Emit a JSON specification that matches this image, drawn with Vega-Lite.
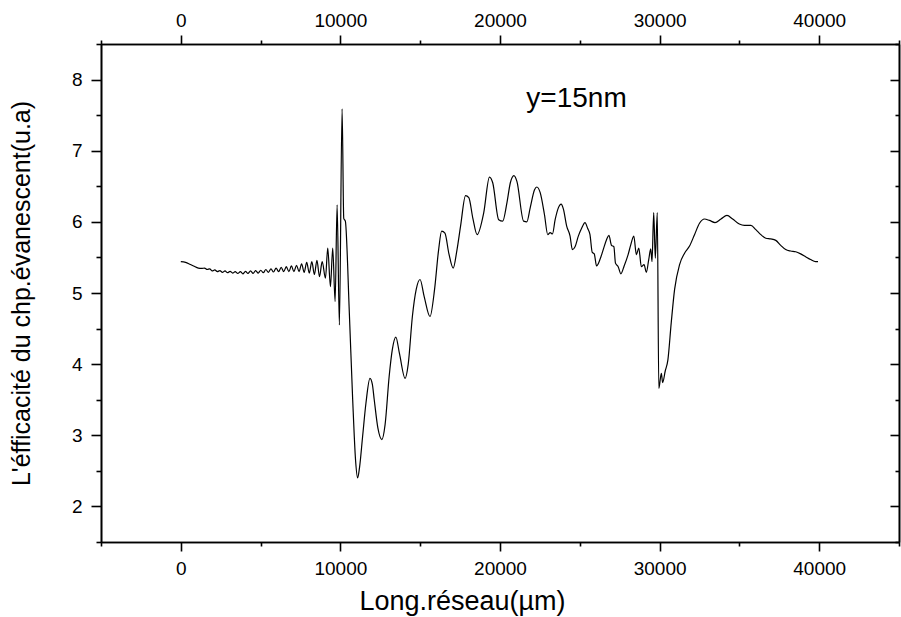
{
  "$schema": "https://vega.github.io/schema/vega-lite/v6.json",
  "width": 798,
  "height": 498,
  "autosize": {"type": "none"},
  "padding": {"left": 101, "top": 44, "right": 2, "bottom": 75},
  "background": "white",
  "config": {
    "view": {"stroke": null},
    "axis": {
      "grid": false,
      "domainColor": "black",
      "domainWidth": 1.6,
      "tickColor": "black",
      "tickWidth": 1.6,
      "labelColor": "black",
      "labelFont": "Liberation Sans",
      "labelFontSize": 19,
      "titleColor": "black",
      "titleFont": "Liberation Sans",
      "titleFontWeight": "normal"
    }
  },
  "datasets": {
    "curve": [
      {"x": 0, "y": 5.44}, {"x": 300, "y": 5.43}, {"x": 600, "y": 5.40}, {"x": 800, "y": 5.38}, {"x": 1100, "y": 5.35}, {"x": 1300, "y": 5.345},
      {"x": 1490, "y": 5.35}, {"x": 1650, "y": 5.33}, {"x": 1810, "y": 5.34}, {"x": 1970, "y": 5.31}, {"x": 2130, "y": 5.325}, {"x": 2290, "y": 5.30},
      {"x": 2450, "y": 5.315}, {"x": 2610, "y": 5.29}, {"x": 2770, "y": 5.31}, {"x": 2930, "y": 5.285}, {"x": 3090, "y": 5.305}, {"x": 3250, "y": 5.28},
      {"x": 3410, "y": 5.30}, {"x": 3570, "y": 5.275}, {"x": 3730, "y": 5.30}, {"x": 3890, "y": 5.27}, {"x": 4050, "y": 5.305}, {"x": 4210, "y": 5.275},
      {"x": 4370, "y": 5.31}, {"x": 4530, "y": 5.275}, {"x": 4690, "y": 5.315}, {"x": 4850, "y": 5.28}, {"x": 5010, "y": 5.32}, {"x": 5170, "y": 5.285},
      {"x": 5330, "y": 5.33}, {"x": 5490, "y": 5.29}, {"x": 5650, "y": 5.34}, {"x": 5810, "y": 5.295}, {"x": 5970, "y": 5.35}, {"x": 6130, "y": 5.30},
      {"x": 6290, "y": 5.36}, {"x": 6450, "y": 5.30}, {"x": 6610, "y": 5.37}, {"x": 6770, "y": 5.30}, {"x": 6930, "y": 5.38}, {"x": 7090, "y": 5.30},
      {"x": 7250, "y": 5.39}, {"x": 7410, "y": 5.30}, {"x": 7570, "y": 5.41}, {"x": 7730, "y": 5.29}, {"x": 7890, "y": 5.43}, {"x": 8050, "y": 5.28},
      {"x": 8210, "y": 5.44}, {"x": 8370, "y": 5.26}, {"x": 8530, "y": 5.46}, {"x": 8690, "y": 5.23}, {"x": 8858, "y": 5.44}, {"x": 9064, "y": 5.21},
      {"x": 9207, "y": 5.63}, {"x": 9376, "y": 5.09}, {"x": 9519, "y": 5.63}, {"x": 9669, "y": 4.88}, {"x": 9794, "y": 6.24}, {"x": 9937, "y": 4.55},
      {"x": 10106, "y": 7.59}, {"x": 10210, "y": 6.05}, {"x": 10310, "y": 6.01}, {"x": 10560, "y": 4.72}, {"x": 10770, "y": 3.50}, {"x": 10950, "y": 2.65},
      {"x": 11080, "y": 2.40}, {"x": 11200, "y": 2.55}, {"x": 11390, "y": 2.98}, {"x": 11600, "y": 3.45}, {"x": 11852, "y": 3.80}, {"x": 12000, "y": 3.72},
      {"x": 12120, "y": 3.50}, {"x": 12350, "y": 3.10}, {"x": 12600, "y": 2.94}, {"x": 12800, "y": 3.15}, {"x": 13056, "y": 3.83}, {"x": 13250, "y": 4.20},
      {"x": 13474, "y": 4.38}, {"x": 13700, "y": 4.15}, {"x": 14054, "y": 3.80}, {"x": 14250, "y": 4.00}, {"x": 14510, "y": 4.67}, {"x": 14750, "y": 5.05},
      {"x": 14990, "y": 5.19}, {"x": 15250, "y": 4.95}, {"x": 15614, "y": 4.67}, {"x": 15900, "y": 5.05}, {"x": 16150, "y": 5.60}, {"x": 16344, "y": 5.87},
      {"x": 16550, "y": 5.84}, {"x": 16800, "y": 5.55}, {"x": 17067, "y": 5.35}, {"x": 17300, "y": 5.60}, {"x": 17529, "y": 5.94}, {"x": 17841, "y": 6.37},
      {"x": 18046, "y": 6.34}, {"x": 18300, "y": 6.05}, {"x": 18564, "y": 5.82}, {"x": 18982, "y": 6.13}, {"x": 19338, "y": 6.63}, {"x": 19544, "y": 6.55},
      {"x": 19918, "y": 6.03}, {"x": 20168, "y": 6.01}, {"x": 20436, "y": 6.27}, {"x": 20648, "y": 6.55}, {"x": 20872, "y": 6.65}, {"x": 21059, "y": 6.57},
      {"x": 21477, "y": 6.01}, {"x": 21683, "y": 6.00}, {"x": 21895, "y": 6.20}, {"x": 22164, "y": 6.45}, {"x": 22307, "y": 6.49}, {"x": 22519, "y": 6.41},
      {"x": 22787, "y": 6.10}, {"x": 22993, "y": 5.82}, {"x": 23143, "y": 5.85}, {"x": 23286, "y": 5.83}, {"x": 23455, "y": 6.03}, {"x": 23661, "y": 6.20},
      {"x": 23829, "y": 6.25}, {"x": 23973, "y": 6.18}, {"x": 24178, "y": 5.94}, {"x": 24390, "y": 5.80}, {"x": 24534, "y": 5.61}, {"x": 24702, "y": 5.65},
      {"x": 24908, "y": 5.80}, {"x": 25114, "y": 5.91}, {"x": 25326, "y": 5.99}, {"x": 25488, "y": 5.91}, {"x": 25638, "y": 5.82}, {"x": 25781, "y": 5.57},
      {"x": 25906, "y": 5.55}, {"x": 26050, "y": 5.38}, {"x": 26262, "y": 5.47}, {"x": 26468, "y": 5.61}, {"x": 26674, "y": 5.75}, {"x": 26824, "y": 5.81},
      {"x": 26985, "y": 5.67}, {"x": 27135, "y": 5.65}, {"x": 27235, "y": 5.42}, {"x": 27404, "y": 5.37}, {"x": 27572, "y": 5.27}, {"x": 27778, "y": 5.38},
      {"x": 28027, "y": 5.54}, {"x": 28196, "y": 5.68}, {"x": 28383, "y": 5.80}, {"x": 28545, "y": 5.54}, {"x": 28695, "y": 5.63}, {"x": 28857, "y": 5.37},
      {"x": 29026, "y": 5.40}, {"x": 29169, "y": 5.29}, {"x": 29319, "y": 5.47}, {"x": 29444, "y": 5.62}, {"x": 29525, "y": 5.44}, {"x": 29631, "y": 6.13},
      {"x": 29731, "y": 5.49}, {"x": 29856, "y": 6.13}, {"x": 29950, "y": 3.66}, {"x": 30110, "y": 3.87}, {"x": 30190, "y": 3.74}, {"x": 30350, "y": 3.90},
      {"x": 30520, "y": 4.06}, {"x": 30728, "y": 4.58}, {"x": 30940, "y": 5.05}, {"x": 31252, "y": 5.40}, {"x": 31564, "y": 5.56}, {"x": 31876, "y": 5.66},
      {"x": 32188, "y": 5.82}, {"x": 32500, "y": 5.98}, {"x": 32812, "y": 6.04}, {"x": 33124, "y": 6.02}, {"x": 33473, "y": 5.99}, {"x": 33847, "y": 6.04},
      {"x": 34222, "y": 6.09}, {"x": 34577, "y": 6.04}, {"x": 34995, "y": 5.97}, {"x": 35307, "y": 5.95}, {"x": 35719, "y": 5.95}, {"x": 36031, "y": 5.89},
      {"x": 36343, "y": 5.82}, {"x": 36655, "y": 5.77}, {"x": 36967, "y": 5.76}, {"x": 37279, "y": 5.74}, {"x": 37590, "y": 5.67}, {"x": 37902, "y": 5.61},
      {"x": 38214, "y": 5.59}, {"x": 38526, "y": 5.58}, {"x": 38838, "y": 5.55}, {"x": 39150, "y": 5.51}, {"x": 39462, "y": 5.47}, {"x": 39774, "y": 5.44},
      {"x": 39924, "y": 5.44}
    ],
    "note": [{"label": "y=15nm"}]
  },
  "resolve": {"axis": {"x": "independent", "y": "independent"}},
  "layer": [
    {
      "data": {"name": "curve"},
      "mark": {"type": "line", "color": "black", "strokeWidth": 1.2, "interpolate": "monotone"},
      "encoding": {
        "x": {"field": "x", "type": "quantitative", "scale": {"domain": [-5000, 45000], "nice": false, "zero": false},
          "axis": {"orient": "bottom", "values": [0, 10000, 20000, 30000, 40000], "format": "d", "tickSize": 9, "labelPadding": 8,
            "title": "Long.réseau(µm)", "titleFontSize": 27, "titlePadding": 10, "titleX": 361}},
        "y": {"field": "y", "type": "quantitative", "scale": {"domain": [1.5, 8.5], "nice": false, "zero": false},
          "axis": {"orient": "left", "values": [2, 3, 4, 5, 6, 7, 8], "tickSize": 10, "labelPadding": 9,
            "title": "L'éfficacité du chp.évanescent(u.a)", "titleFontSize": 25, "titlePadding": 37}}
      }
    },
    {
      "data": {"name": "curve"},
      "mark": {"type": "line", "strokeOpacity": 0},
      "encoding": {
        "x": {"field": "x", "type": "quantitative", "axis": {"orient": "top", "values": [0, 10000, 20000, 30000, 40000], "format": "d", "tickSize": 9, "labelPadding": 5, "title": null}},
        "y": {"field": "y", "type": "quantitative", "axis": {"orient": "right", "values": [2, 3, 4, 5, 6, 7, 8], "tickSize": -9, "labels": false, "title": null}}
      }
    },
    {
      "data": {"name": "curve"},
      "mark": {"type": "line", "strokeOpacity": 0},
      "encoding": {
        "x": {"field": "x", "type": "quantitative", "axis": {"orient": "bottom", "values": [-5000, 5000, 15000, 25000, 35000, 45000], "tickSize": 4, "labels": false, "title": null}},
        "y": {"field": "y", "type": "quantitative", "axis": {"orient": "left", "values": [1.5, 2.5, 3.5, 4.5, 5.5, 6.5, 7.5, 8.5], "tickSize": 5, "labels": false, "title": null}}
      }
    },
    {
      "data": {"name": "curve"},
      "mark": {"type": "line", "strokeOpacity": 0},
      "encoding": {
        "x": {"field": "x", "type": "quantitative", "axis": {"orient": "top", "values": [-5000, 5000, 15000, 25000, 35000, 45000], "tickSize": 4, "labels": false, "title": null}},
        "y": {"field": "y", "type": "quantitative", "axis": {"orient": "right", "values": [1.5, 2.5, 3.5, 4.5, 5.5, 6.5, 7.5, 8.5], "tickSize": -4, "labels": false, "title": null}}
      }
    },
    {
      "data": {"name": "note"},
      "mark": {"type": "text", "font": "Liberation Sans", "fontSize": 28, "align": "left", "baseline": "middle", "color": "black"},
      "encoding": {
        "text": {"field": "label"},
        "x": {"datum": 21650, "type": "quantitative", "axis": null},
        "y": {"datum": 7.72, "type": "quantitative", "axis": null}
      }
    }
  ]
}
